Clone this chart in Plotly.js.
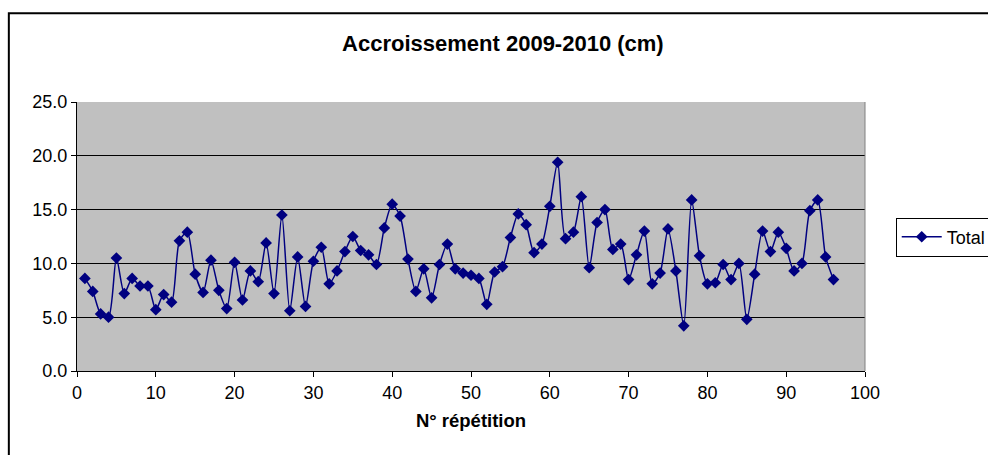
<!DOCTYPE html>
<html>
<head>
<meta charset="utf-8">
<script src="https://cdn.plot.ly/plotly-3.0.1.min.js"></script>
<style>
  html, body { margin: 0; padding: 0; background: #ffffff; }
  #chart { width: 988px; height: 455px; }
</style>
</head>
<body>
<div id="chart"></div>
<script>
// Repetition numbers and growth for each repetition (cm)
const repetitions = Array.from({length: 96}, (_, i) => i + 1);
const totalGrowth = [
  8.6, 7.4, 5.3, 5.0, 10.5, 7.2, 8.6, 7.9, 7.9, 5.7,
  7.1, 6.4, 12.1, 12.9, 9.0, 7.3, 10.3, 7.5, 5.8, 10.1,
  6.6, 9.3, 8.3, 11.9, 7.2, 14.5, 5.6, 10.6, 6.0, 10.2,
  11.5, 8.1, 9.3, 11.1, 12.5, 11.2, 10.8, 9.9, 13.3, 15.5,
  14.4, 10.4, 7.4, 9.5, 6.8, 9.9, 11.8, 9.5, 9.1, 8.9,
  8.6, 6.2, 9.2, 9.7, 12.4, 14.6, 13.6, 11.0, 11.8, 15.3,
  19.4, 12.3, 12.9, 16.2, 9.6, 13.8, 15.0, 11.3, 11.8, 8.5,
  10.8, 13.0, 8.1, 9.1, 13.2, 9.3, 4.2, 15.9, 10.7, 8.1,
  8.2, 9.9, 8.5, 10.0, 4.8, 9.0, 13.0, 11.1, 12.9, 11.4,
  9.3, 10.0, 14.9, 15.9, 10.6, 8.5
];
const seriesName = 'Total';
const chartTitle = 'Accroissement 2009-2010 (cm)';
const xTitle = 'N° répétition';
const xTicks = [0, 10, 20, 30, 40, 50, 60, 70, 80, 90, 100];
const yTicks = [0, 5, 10, 15, 20, 25];

const FONT = 'Arial, "Liberation Sans", sans-serif';
const NAVY = '#000080';

const trace = {
  x: repetitions,
  y: totalGrowth,
  name: seriesName,
  type: 'scatter',
  mode: 'lines+markers',
  line: { color: NAVY, width: 1.5, shape: 'spline', smoothing: 0.7 },
  marker: { symbol: 'diamond', size: 9, color: NAVY, line: { width: 0 } },
  showlegend: true
};

const layout = {
  width: 988,
  height: 455,
  margin: { l: 77, r: 123, t: 102, b: 84, autoexpand: false },
  paper_bgcolor: '#ffffff',
  plot_bgcolor: '#C0C0C0',
  font: { family: FONT, size: 18, color: '#000000' },
  title: {
    text: '<b>' + chartTitle + '</b>',
    font: { family: FONT, size: 22, color: '#000000' },
    xref: 'container', x: 0.509, xanchor: 'center',
    yref: 'container', y: 0.905, yanchor: 'middle'
  },
  xaxis: {
    range: [0, 100],
    tickvals: xTicks,
    ticktext: xTicks.map(String),
    ticks: 'outside', ticklen: 5, tickcolor: '#000000', tickwidth: 1,
    showline: true, linecolor: '#000000', linewidth: 1,
    showgrid: false, zeroline: false,
    tickfont: { family: FONT, size: 18 },
    title: { text: '<b>' + xTitle + '</b>', font: { family: FONT, size: 18.5 }, standoff: 12 }
  },
  yaxis: {
    range: [0, 25],
    tickvals: yTicks,
    ticktext: yTicks.map(v => v.toFixed(1)),
    ticks: 'outside', ticklen: 5, tickcolor: '#000000', tickwidth: 1,
    showline: true, linecolor: '#000000', linewidth: 1,
    showgrid: true, gridcolor: '#000000', gridwidth: 1,
    zeroline: false,
    tickfont: { family: FONT, size: 18 }
  },
  legend: {
    x: 1.039, xanchor: 'left',
    y: 0.498, yanchor: 'middle',
    bgcolor: '#ffffff',
    bordercolor: '#000000', borderwidth: 1,
    font: { family: FONT, size: 18 },
    itemwidth: 40
  },
  shapes: [
    // outer chart frame
    { type: 'rect', xref: 'paper', yref: 'paper',
      x0: -0.0865, x1: 1.2, y0: -0.5, y1: 1.33,
      line: { color: '#000000', width: 2 }, fillcolor: 'rgba(0,0,0,0)', layer: 'below' },
    // right edge of plot area
    { type: 'line', xref: 'paper', yref: 'paper',
      x0: 1, x1: 1, y0: 0, y1: 1,
      line: { color: '#808080', width: 1 } }
  ]
};

Plotly.newPlot('chart', [trace], layout, { displayModeBar: false, staticPlot: true });
</script>
</body>
</html>
